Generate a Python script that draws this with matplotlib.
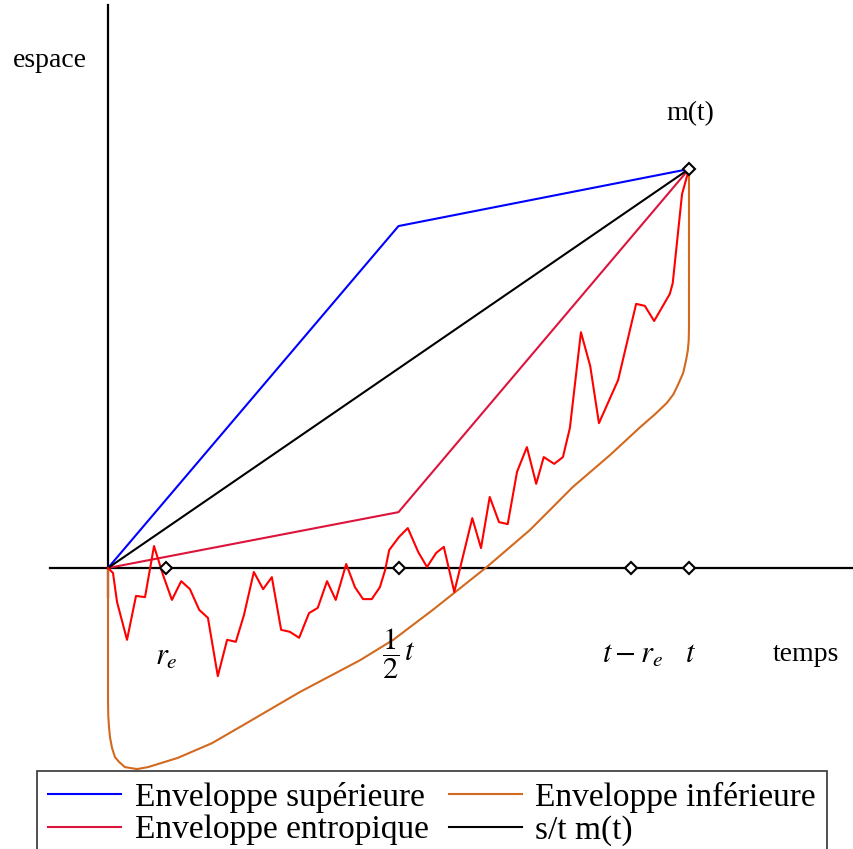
import matplotlib.pyplot as plt

plt.rcParams['font.family'] = ['Liberation Serif', 'DejaVu Serif']
plt.rcParams['mathtext.fontset'] = 'stix'

# time in % of t, space in % of m(t)
s_corner = [0, 50, 100]
sup_env = [0, 85.7, 100]
ent_env = [0, 14.0, 100]
diag_s = [0, 100]
diag_m = [0, 100]

# sample path
walk_s = [0, 0.86, 1.55, 3.27, 4.82, 6.37, 7.92, 9.47, 11.0, 12.6, 14.1, 15.7, 17.2,
          18.9, 20.5, 22.0, 23.4, 25.1, 26.7, 28.2, 29.8, 31.3, 32.9, 34.6, 36.1,
          37.7, 39.2, 41.0, 42.5, 43.9, 45.4, 46.8, 47.7, 48.4, 50.1, 51.6, 53.4,
          54.9, 56.5, 57.8, 59.6, 62.7, 64.2, 65.7, 67.3, 68.8, 70.4, 72.1, 73.7,
          75.0, 76.8, 78.3, 79.5, 81.4, 83.0, 84.5, 87.8, 90.9, 92.4, 94.0, 96.7,
          97.2, 98.8, 100]
walk_x = [0, -1.25, -8.5, -18.0, -7.0, -7.3, 5.5, -1.75, -8.0, -3.3, -5.3, -10.5, -12.5,
          -27.1, -18.0, -18.5, -11.8, -1.0, -5.3, -2.3, -15.5, -16.0, -17.5, -11.3, -10.0,
          -3.3, -8.0, 1.0, -4.8, -7.8, -7.8, -4.8, -0.5, 4.5, 7.8, 10.0, 4.0,
          0.25, 3.8, 5.3, -6.0, 12.5, 5.0, 17.8, 11.5, 11.0, 24.1, 30.3, 21.1,
          27.8, 26.1, 27.8, 35.1, 59.1, 50.6, 36.3, 47.1, 66.2, 65.7, 61.9, 68.7,
          71.4, 93.7, 100]

# lower envelope
inf_s = [0, 0, 0, 0, 0.05, 0.17, 0.34, 0.69, 1.2, 1.9, 2.9, 5.0, 6.9, 12.0, 17.9, 23.6,
         33.0, 43.4, 49.1, 55.9, 65.2, 72.6, 80.0, 86.4, 91.6, 94.2, 96.2, 97.3, 98.1,
         99.0, 99.5, 99.8, 99.95, 100, 100, 100]
inf_x = [0, -7.5, -23.1, -33.5, -37.2, -39.8, -42.4, -45.1, -47.4, -48.6, -49.9, -50.4,
         -49.9, -47.6, -43.9, -39.1, -31.1, -23.1, -18.0, -10.5, 0.25, 9.5, 20.3, 28.3,
         35.3, 38.6, 41.4, 43.5, 45.9, 48.9, 52.1, 54.6, 57.0, 60.5, 79.7, 100]

marks_s = [10, 50, 90, 100]

fig = plt.figure(figsize=(8.54, 8.49), dpi=100)
ax = fig.add_axes([0, 0, 1, 1])
ax.set_xlim(-18.59, 128.4)
ax.set_ylim(-70.43, 142.36)
ax.axis('off')

# axes through the origin
ax.plot([-10.0, 128.4], [0, 0], color='black', lw=1.6, zorder=1)
ax.plot([0, 0], [-7.3, 141.1], color='black', lw=1.6, zorder=1)

lw = 1.5
l_sup, = ax.plot(s_corner, sup_env, color='#0000FF', lw=lw, label='Enveloppe supérieure')
l_ent, = ax.plot(s_corner, ent_env, color='#DC143C', lw=lw, label='Enveloppe entropique')
l_inf, = ax.plot(inf_s, inf_x, color='#D2691E', lw=lw, label='Enveloppe inférieure')
l_diag, = ax.plot(diag_s, diag_m, color='black', lw=lw, label='s/t m(t)')
ax.plot(walk_s, walk_x, color='#FF0000', lw=lw, zorder=3)

ax.plot(marks_s, [0] * len(marks_s), linestyle='none', marker='D', ms=6.5,
        mfc='white', mec='black', mew=1.5, zorder=5)
ax.plot([100], [100], linestyle='none', marker='D', ms=6.5,
        mfc='white', mec='black', mew=1.5, zorder=5)

fs = 20
ax.text(-10.0, 127.3, 'espace', fontsize=fs, ha='center', va='center')
ax.text(100.3, 114.0, 'm(t)', fontsize=fs, ha='center', va='center')
ax.text(120.1, -21.8, 'temps', fontsize=fs, ha='center', va='center')
ax.text(10.0, -22.5, r'$r_e$', fontsize=22, ha='center', va='center')
ax.text(50.0, -21.5, r'$\dfrac{1}{2}\,t$', fontsize=22, ha='center', va='center')
ax.text(90.2, -21.8, r'$t - r_e$', fontsize=22, ha='center', va='center')
ax.text(100.2, -21.8, r'$t$', fontsize=22, ha='center', va='center')

leg = fig.legend(handles=[l_sup, l_ent, l_inf, l_diag], ncol=2, loc='upper left',
                 bbox_to_anchor=(37 / 854, 1 - 771 / 849), borderaxespad=0,
                 fontsize=24, frameon=True, fancybox=False, shadow=False,
                 handlelength=2.2, handletextpad=0.4, columnspacing=0.6,
                 labelspacing=0.05, borderpad=0.33)
leg.get_frame().set_edgecolor('black')
leg.get_frame().set_linewidth(1.2)

fig.savefig('out.png', dpi=100)
